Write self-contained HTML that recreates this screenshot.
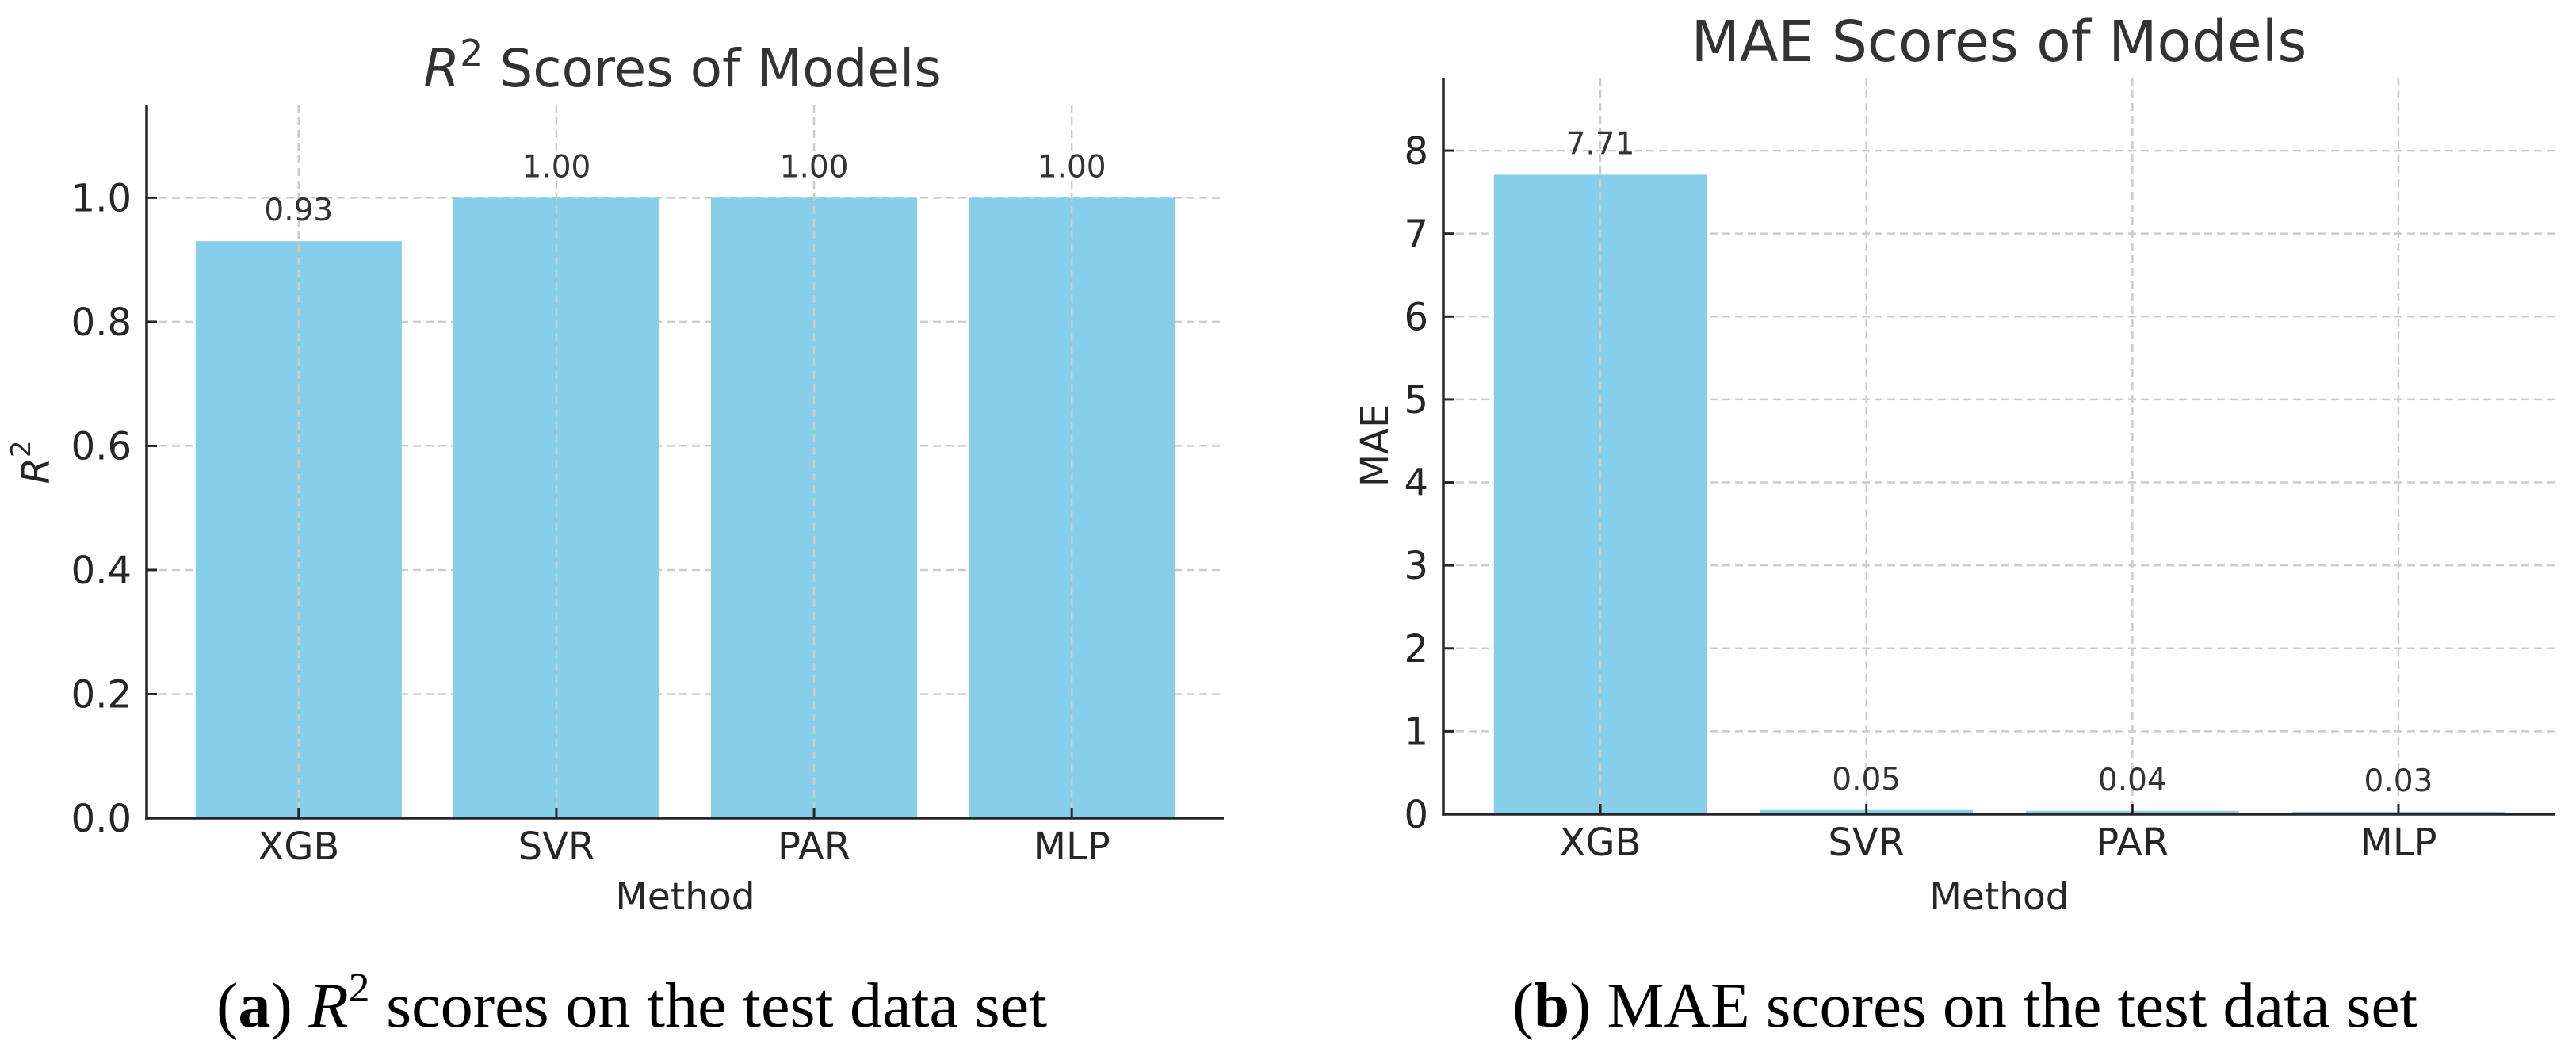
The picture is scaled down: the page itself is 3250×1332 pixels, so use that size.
<!DOCTYPE html>
<html><head><meta charset="utf-8">
<style>
html,body{margin:0;padding:0;background:#fff;}
svg{display:block;}
text{font-family:"DejaVu Sans","Liberation Sans",sans-serif;}
.cap{font-family:"Liberation Serif",serif;fill:#000;}
</style></head>
<body>
<svg id="fig" width="3250" height="1332" viewBox="0 0 3250 1332" xmlns="http://www.w3.org/2000/svg">
<g id="chartA"></g>
<g id="chartB"></g>
<text class="cap" x="273" y="1295" font-size="80" textLength="1048" lengthAdjust="spacingAndGlyphs">(<tspan font-weight="bold">a</tspan>) <tspan font-style="italic">R</tspan><tspan font-size="52" dy="-32">2</tspan><tspan dy="32"> scores on the test data set</tspan></text>
<text class="cap" x="1908" y="1295" font-size="80" textLength="1142" lengthAdjust="spacingAndGlyphs">(<tspan font-weight="bold">b</tspan>) MAE scores on the test data set</text>
</svg>
<script>
const categories = ["XGB","SVR","PAR","MLP"];
const r2Values = [0.93, 1.00, 1.00, 1.00];
const r2Labels = ["0.93","1.00","1.00","1.00"];
const r2Ticks = [0, 0.2, 0.4, 0.6, 0.8, 1.0];
const r2TickLabels = ["0.0","0.2","0.4","0.6","0.8","1.0"];
const maeValues = [7.71, 0.05, 0.04, 0.03];
const maeLabels = ["7.71","0.05","0.04","0.03"];
const maeTicks = [0,1,2,3,4,5,6,7,8];
const maeTickLabels = ["0","1","2","3","4","5","6","7","8"];

const NS = "http://www.w3.org/2000/svg";
function mk(tag, attrs, parent){
  const e = document.createElementNS(NS, tag);
  for (const k in attrs) e.setAttribute(k, attrs[k]);
  parent.appendChild(e);
  return e;
}
function drawChart(g, cfg){
  const {left,right,top,bottom,ymax,values,labels,ticks,tickLabels} = cfg;
  const n = categories.length;
  const xmin = -0.59, xmax = n - 1 + 0.59;
  const xs = v => left + (v - xmin) / (xmax - xmin) * (right - left);
  const ys = v => bottom - v / ymax * (bottom - top);
  const bw = (xs(0.8) - xs(0));
  ticks.forEach((t) => {
    const l = mk('line',{x1:left,x2:right,y1:ys(t),y2:ys(t),stroke:'#cccccc','stroke-width':2.5,'stroke-dasharray':'10 6'},g);
    
    
  });
  values.forEach((v,i) => {
    const r = mk('rect',{x:xs(i)-bw/2,y:ys(v),width:bw,height:bottom-ys(v),fill:'#87ceeb'},g);
    
    
  });
  categories.forEach((c,i) => {
    const l = mk('line',{x1:xs(i),x2:xs(i),y1:top,y2:bottom,stroke:'#cccccc','stroke-width':2.5,'stroke-dasharray':'10 6'},g);
    
    
  });
  values.forEach((v,i) => {
    const t = mk('text',{x:xs(i),y:ys(v)-26,'font-size':39,fill:'#333','text-anchor':'middle'},g);
    t.textContent = labels[i];
    
    
  });
  const ya = mk('line',{x1:left,x2:left,y1:top,y2:bottom+1.75,stroke:'#262626','stroke-width':3.5},g);
  
  
  const xa = mk('line',{x1:left-1.75,x2:right,y1:bottom,y2:bottom,stroke:'#262626','stroke-width':3.5},g);
  
  
  ticks.forEach((t,i) => {
    const tk = mk('line',{x1:left,x2:left+13,y1:ys(t),y2:ys(t),stroke:'#262626','stroke-width':3},g);
    
    
    const tl = mk('text',{x:left-19,y:ys(t)+17,'font-size':48,fill:'#262626','text-anchor':'end'},g);
    tl.textContent = tickLabels[i];
    
    
  });
  categories.forEach((c,i) => {
    const tk = mk('line',{x1:xs(i),x2:xs(i),y1:bottom,y2:bottom-13,stroke:'#262626','stroke-width':3},g);
    
    
    const tl = mk('text',{x:xs(i),y:bottom+52,'font-size':48,fill:'#262626','text-anchor':'middle'},g);
    tl.textContent = c;
    
    
  });
  const xt = mk('text',{x:(left+right)/2,y:1147,'font-size':47,fill:'#262626','text-anchor':'middle'},g);
  xt.textContent = 'Method';
  
  
}
const gA = document.getElementById('chartA');
const gB = document.getElementById('chartB');
drawChart(gA,{left:185,right:1544,top:132,bottom:1032,ymax:1.15,values:r2Values,labels:r2Labels,ticks:r2Ticks,tickLabels:r2TickLabels});
drawChart(gB,{left:1821,right:3224,top:98,bottom:1027,ymax:8.88,values:maeValues,labels:maeLabels,ticks:maeTicks,tickLabels:maeTickLabels});

let t = mk('text',{x:861,y:109,'font-size':66,fill:'#333','text-anchor':'middle'},gA);
t.innerHTML = '<tspan font-style="italic">R</tspan><tspan font-size="46" dy="-26">2</tspan><tspan dy="26"> Scores of Models</tspan>';


t = mk('text',{x:2522,y:77,'font-size':71,fill:'#333','text-anchor':'middle'},gB);
t.textContent = 'MAE Scores of Models';


t = mk('text',{x:0,y:0,'font-size':48,fill:'#262626','text-anchor':'middle',transform:'translate(62,583) rotate(-90)'},gA);
t.innerHTML = '<tspan font-style="italic">R</tspan><tspan font-size="34" dy="-24">2</tspan>';


t = mk('text',{x:0,y:0,'font-size':48,fill:'#262626','text-anchor':'middle',transform:'translate(1751,562) rotate(-90)'},gB);
t.textContent = 'MAE';


</script>
</body></html>
